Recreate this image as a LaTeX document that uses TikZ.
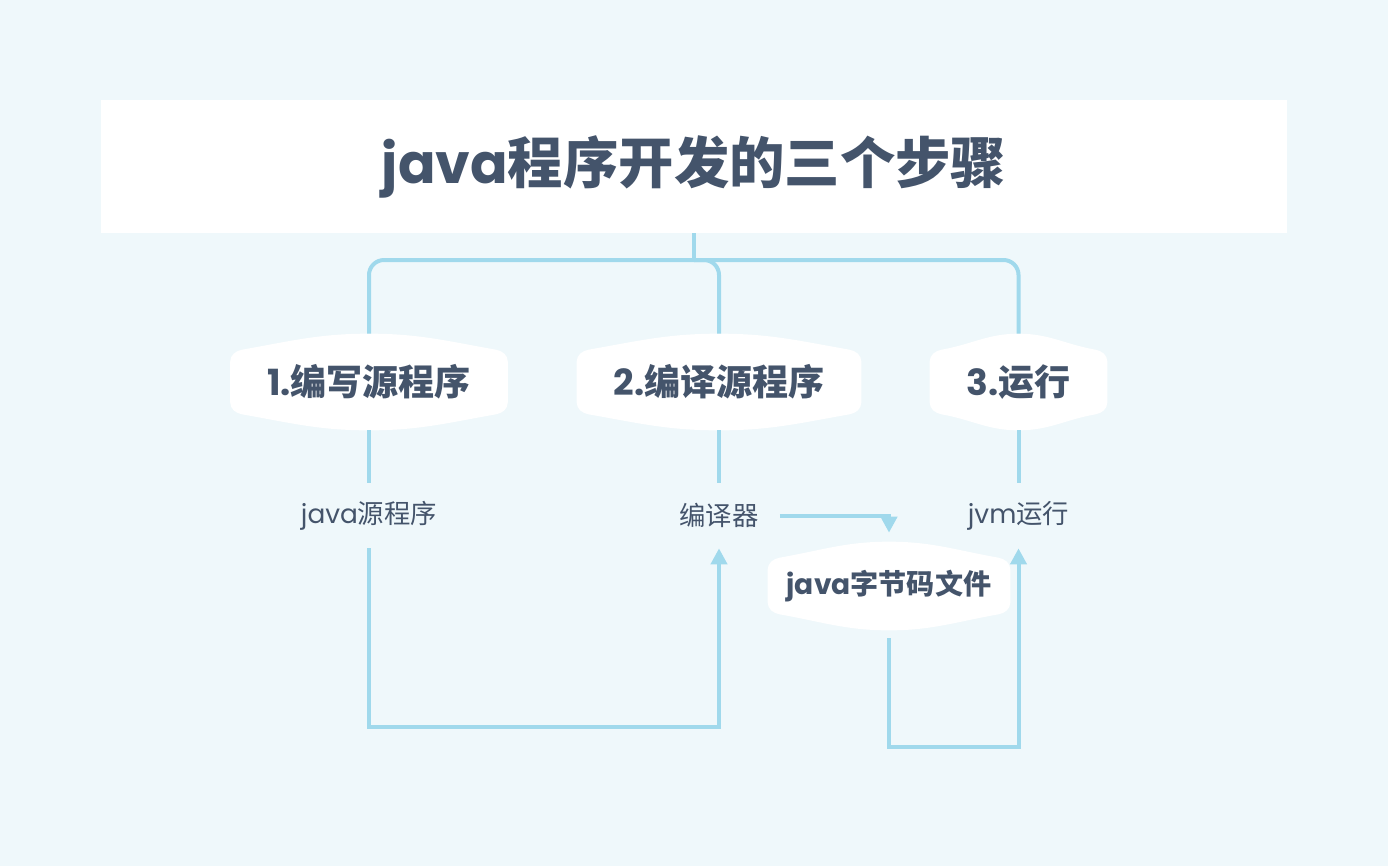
\documentclass[tikz,border=0pt]{standalone}
\usepackage{fontspec}
\setmainfont{Noto Sans CJK SC}
\newfontfamily\lat{Poppins}
\usetikzlibrary{arrows.meta,positioning,calc,backgrounds}
\definecolor{cBg}{HTML}{EFF8FB}
\definecolor{cLine}{HTML}{A0D9EC}
\definecolor{cText}{HTML}{44546B}
\tikzset{
  titlebox/.style={rectangle, fill=white, text=cText, inner sep=0pt, minimum width=23.74cm, minimum height=2.66cm, font=\fontsize{31.5}{36}\selectfont\bfseries},
  stepnode/.style={inner sep=0pt, text=cText, minimum height=1.92cm, font=\fontsize{20.5}{24}\selectfont\bfseries},
  filenode/.style={inner sep=0pt, text=cText, minimum width=4.84cm, minimum height=1.76cm, font=\fontsize{16}{19}\selectfont\bfseries},
  lbl/.style={inner xsep=0.42cm, inner ysep=0pt, minimum height=1.3cm, text=cText, font=\fontsize{15}{18}\selectfont},
  link/.style={cLine, line width=0.08cm},
  flow/.style={link, -{Triangle[length=0.32cm, width=0.32cm]}},
}
% white barrel behind a node: bulged top and bottom
\newcommand{\barrel}[1]{%
  \fill[white] ([yshift=-0.56cm]#1.north west) to[out=90, in=190] ([xshift=0.24cm, yshift=-0.32cm]#1.north west)
    to[out=10, in=180] (#1.north) to[out=0, in=170] ([xshift=-0.24cm, yshift=-0.32cm]#1.north east)
    to[out=-10, in=90] ([yshift=-0.56cm]#1.north east) -- ([yshift=0.56cm]#1.south east)
    to[out=-90, in=10] ([xshift=-0.24cm, yshift=0.32cm]#1.south east) to[out=190, in=0] (#1.south)
    to[out=180, in=-10] ([xshift=0.24cm, yshift=0.32cm]#1.south west) to[out=170, in=-90] ([yshift=0.56cm]#1.south west) -- cycle;}
\begin{document}
\begin{tikzpicture}[x=0.02cm, y=-0.02cm]
  \useasboundingbox (0,0) rectangle (1388,866);
  \node[titlebox] (title) at (694,166.5) {{\lat java}程序开发的三个步骤};
  \node[stepnode, minimum width=5.54cm] (s1) at (369,382) {{\lat 1.}编写源程序};
  \node[stepnode, minimum width=5.68cm] (s2) at (719,382) {{\lat 2.}编译源程序};
  \node[stepnode, minimum width=3.54cm] (s3) at (1018.5,382) {{\lat 3.}运行};
  \node[lbl] (src) at (369,515.5) {{\lat java}源程序};
  \node[lbl] (comp) at (719,515.5) {编译器};
  \node[lbl] (jvm) at (1018.5,515.5) {{\lat jvm}运行};
  \node[filenode] (bc) at (889,586) {{\lat java}字节码文件};
  \begin{scope}[on background layer]
    \fill[cBg] (0,0) rectangle (1388,866);
    \foreach \n in {s1,s2,s3,bc} {\barrel{\n}}
  \end{scope}
  \coordinate (hub) at (694,260);
  \draw[link] (title.south) -- (hub);
  \foreach \s in {s1,s2,s3} {\draw[link, rounded corners=0.3cm] (hub) -| (\s.north);}
  \draw[link] (s1.south) -- (src.north);
  \draw[link] (s2.south) -- (comp.north);
  \draw[link] (s3.south) -- (jvm.north);
  \draw[flow] (src.south) -- ++(0,179) -| (comp.south);
  \draw[flow, shorten >=0.18cm] (comp.east) -| (bc.north);
  \draw[flow, shorten <=0.16cm] (bc.south) -- ++(0,117) -| (jvm.south);
\end{tikzpicture}
\end{document}
